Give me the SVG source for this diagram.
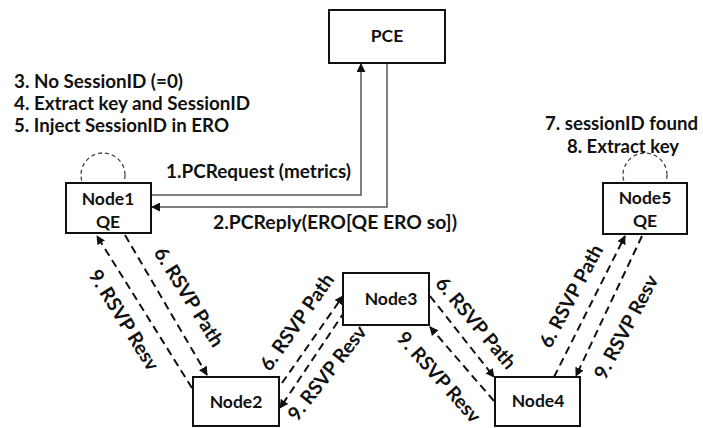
<svg xmlns="http://www.w3.org/2000/svg" width="703" height="428" viewBox="0 0 703 428">
<style>
.box{fill:#fff;stroke:#111;stroke-width:2}
.t{font-family:Lato,"Open Sans","Liberation Sans",sans-serif;font-weight:bold;font-size:19px;fill:#111}
.n{font-size:17.5px}
.r{font-size:19.5px}
.c{text-anchor:middle}
.solid{fill:none;stroke:#555;stroke-width:1.5}
.dash{fill:none;stroke:#111;stroke-width:2;stroke-dasharray:8 5}
.loop{fill:none;stroke:#444;stroke-width:1.3;stroke-dasharray:4 3}
</style>
<defs>
<marker id="ah" viewBox="0 0 10 10" refX="9" refY="5" markerWidth="9" markerHeight="9" markerUnits="userSpaceOnUse" orient="auto">
<path d="M0,0 L10,5 L0,10 z" fill="#111"/>
</marker>
</defs>
<rect width="703" height="428" fill="#fff"/>
<g id="loops">
<circle class="loop" cx="103" cy="175" r="22"/>
<circle class="loop" cx="645" cy="175" r="22"/>
</g>
<g id="connectors">
<path class="solid" d="M151,195 H361 V64" marker-end="url(#ah)"/>
<path class="solid" d="M387,63 V207 H152" marker-end="url(#ah)"/>
<line class="dash" x1="125" y1="235" x2="207" y2="375" marker-end="url(#ah)"/>
<line class="dash" x1="192" y1="388" x2="97" y2="236" marker-end="url(#ah)"/>
<line class="dash" x1="282" y1="383" x2="343" y2="296" marker-end="url(#ah)"/>
<line class="dash" x1="345" y1="311" x2="280" y2="408" marker-end="url(#ah)"/>
<line class="dash" x1="430" y1="296" x2="494" y2="377" marker-end="url(#ah)"/>
<line class="dash" x1="494" y1="401" x2="430" y2="327" marker-end="url(#ah)"/>
<line class="dash" x1="554" y1="377" x2="625" y2="236" marker-end="url(#ah)"/>
<line class="dash" x1="642" y1="236" x2="576" y2="376" marker-end="url(#ah)"/>
<text class="t" x="166" y="178" textLength="185" lengthAdjust="spacingAndGlyphs">1.PCRequest (metrics)</text>
<text class="t" x="213" y="229" textLength="244" lengthAdjust="spacingAndGlyphs">2.PCReply(ERO[QE ERO so])</text>
<text class="t r c" transform="rotate(58 189 297)" x="189" y="297" dy="0.35em">6. RSVP Path</text>
<text class="t r c" transform="rotate(58 124 320)" x="124" y="320" dy="0.35em">9. RSVP Resv</text>
<text class="t r c" transform="rotate(-55 297 322)" x="297" y="322" dy="0.35em">6. RSVP Path</text>
<text class="t r c" transform="rotate(-52 327 373)" x="327" y="373" dy="0.35em">9. RSVP Resv</text>
<text class="t r c" transform="rotate(50 476 323)" x="476" y="323" dy="0.35em">6. RSVP Path</text>
<text class="t r c" transform="rotate(48 439 377)" x="439" y="377" dy="0.35em">9. RSVP Resv</text>
<text class="t r c" transform="rotate(-62 571 296)" x="571" y="296" dy="0.35em">6. RSVP Path</text>
<text class="t r c" transform="rotate(-62 626 327)" x="626" y="327" dy="0.35em">9. RSVP Resv</text>
</g>
<g id="notes">
<text class="t" x="14" y="88" textLength="169" lengthAdjust="spacingAndGlyphs">3. No SessionID (=0)</text>
<text class="t" x="14" y="110" textLength="236" lengthAdjust="spacingAndGlyphs">4. Extract key and SessionID</text>
<text class="t" x="14" y="132" textLength="215" lengthAdjust="spacingAndGlyphs">5. Inject SessionID in ERO</text>
<text class="t" x="545" y="130" textLength="153" lengthAdjust="spacingAndGlyphs">7. sessionID found</text>
<text class="t" x="567" y="153" textLength="112" lengthAdjust="spacingAndGlyphs">8. Extract key</text>
</g>
<g id="PCE"><rect class="box" x="329" y="10" width="116" height="53"/><text class="t n c" x="387" y="42">PCE</text></g>
<g id="Node1"><rect class="box" x="66" y="183" width="85" height="50"/><text class="t n c" x="108" y="205">Node1</text><text class="t n c" x="108" y="228">QE</text></g>
<g id="Node5"><rect class="box" x="603" y="183" width="84" height="51"/><text class="t n c" x="645" y="204">Node5</text><text class="t n c" x="645" y="227">QE</text></g>
<g id="Node2"><rect class="box" x="193" y="377" width="86" height="49"/><text class="t n c" x="236" y="408">Node2</text></g>
<g id="Node3"><rect class="box" x="343" y="273" width="86" height="52"/><text class="t n c" x="391" y="305">Node3</text></g>
<g id="Node4"><rect class="box" x="495" y="377" width="85" height="49"/><text class="t n c" x="538" y="407">Node4</text></g>
</svg>
